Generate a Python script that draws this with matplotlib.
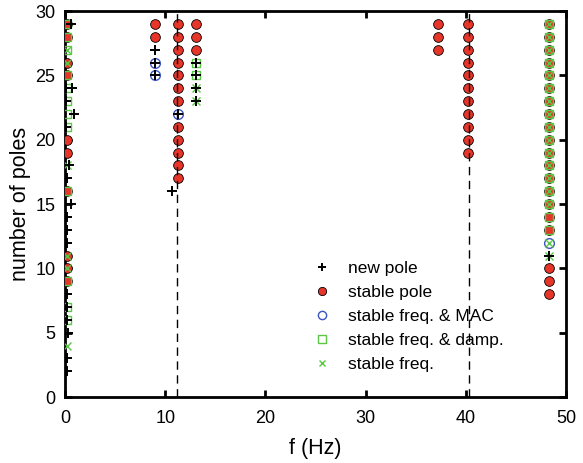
import numpy as np
import matplotlib.pyplot as plt

plt.rcParams['font.family'] = ['Liberation Sans', 'DejaVu Sans']

# identified modes (dashed lines)
mode_f = [11.15, 40.35]

new_f = [0.6, 0.1, 0.7, 0.1, 0.85, 0.1, 0.4, 0.2, 0.6, 0.2, 0.2, 0.2, 0.2, 0.2, 0.2, 0.3, 0.2, 0.2,
         9.0, 9.0, 9.0, 11.3, 10.65, 13.1, 13.1, 13.1, 13.1, 48.3]
new_n = [29, 24, 24, 23, 22, 21, 18, 17, 15, 14, 13, 12, 8, 7, 6, 5, 3, 2,
         27, 26, 25, 22, 16, 26, 25, 24, 23, 11]

pole_f = [0.15]*10 + [9.0]*2 + [11.3]*12 + [13.1]*3 + [37.2]*3 + [40.2]*11 + [48.3]*20
pole_n = [29, 28, 26, 25, 20, 19, 16, 11, 10, 9,
          29, 28,
          29, 28, 27, 26, 25, 24, 23, 21, 20, 19, 18, 17,
          29, 28, 27,
          29, 28, 27,
          29, 28, 27, 26, 25, 24, 23, 22, 21, 20, 19,
          29, 28, 27, 26, 25, 24, 23, 22, 21, 20, 19, 18, 17, 16, 15, 14, 13, 10, 9, 8]

mac_f = [9.0, 9.0, 11.3, 48.3]
mac_n = [26, 25, 22, 12]

damp_f = [0.15]*12 + [13.1]*2 + [48.3]*17
damp_n = [29, 28, 27, 25, 24, 23, 22, 21, 16, 9, 7, 6,
          26, 25,
          29, 28, 27, 26, 25, 24, 23, 22, 21, 20, 19, 18, 17, 16, 15, 14, 13]

freq_f = [0.15]*6 + [13.1]*2 + [48.3]*17
freq_n = [27, 26, 18, 11, 10, 4,
          24, 23,
          29, 28, 27, 26, 25, 24, 23, 22, 21, 20, 19, 18, 17, 16, 15, 12, 11]

red = '#e8352a'
blue = '#3b55c4'
green = '#5cc646'

fig = plt.figure(figsize=(5.83, 4.63), dpi=100)
ax = fig.add_axes([0.1115, 0.1425, 0.8595, 0.8335])

ax.plot(pole_f, pole_n, 'o', ms=7, mfc=red, mec='black', mew=0.6, ls='none', label='stable pole', zorder=3)
ax.plot(mac_f, mac_n, 'o', ms=7, mfc='none', mec=blue, mew=1.0, ls='none', label='stable freq. & MAC', zorder=4)
ax.plot(damp_f, damp_n, 's', ms=6, mfc='none', mec=green, mew=1.0, ls='none', label='stable freq. & damp.', zorder=5)
ax.plot(freq_f, freq_n, 'x', ms=5.5, mec=green, mew=1.0, ls='none', label='stable freq.', zorder=6)
ax.plot(new_f, new_n, '+', ms=7.5, mec='black', mew=1.4, ls='none', label='new pole', zorder=7)

for f in mode_f:
    ax.plot([f, f], [0, 30], color='black', ls=(0, (6, 4)), lw=1.0, zorder=8)

ax.set_xlim(0, 50)
ax.set_ylim(0, 30)
ax.set_xticks([0, 10, 20, 30, 40, 50])
ax.set_yticks([0, 5, 10, 15, 20, 25, 30])
ax.tick_params(direction='in', length=5, width=2, top=True, right=True, labelsize=13)
ax.tick_params(axis='x', pad=9)
ax.tick_params(axis='y', pad=7)
for s in ax.spines.values():
    s.set_linewidth(2)
ax.set_xlabel('f (Hz)', fontsize=15.5, labelpad=8)
ax.set_ylabel('number of poles', fontsize=15.5, labelpad=3)

h, l = ax.get_legend_handles_labels()
order = [4, 0, 1, 2, 3]
leg = ax.legend([h[i] for i in order], [l[i] for i in order], frameon=False, fontsize=12.5,
                loc='upper left', bbox_to_anchor=(0.537, 0.4365), bbox_transform=fig.transFigure,
                handlelength=1.0, handletextpad=1.0, labelspacing=0.51, markerscale=0.85,
                borderpad=0, borderaxespad=0)

plt.savefig('out.png', dpi=100)
